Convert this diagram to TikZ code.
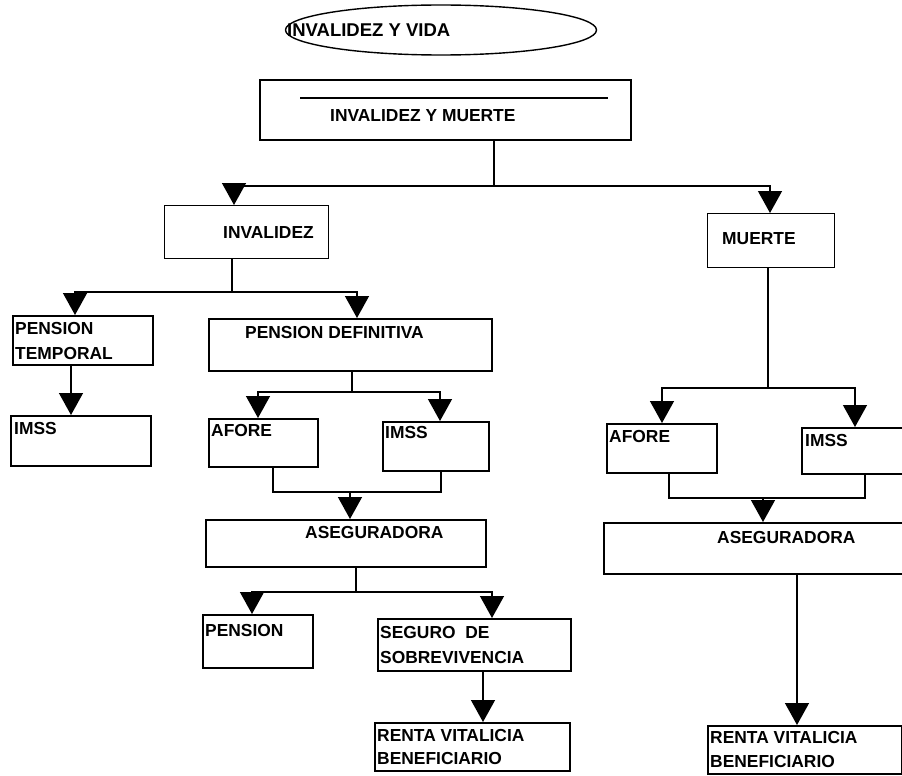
\documentclass[tikz,border=0pt]{standalone}
\usepackage{fontspec}
\setmainfont{Liberation Sans}
\usetikzlibrary{arrows.meta,shapes.geometric}
\tikzset{
  box/.style={draw, line width=2.2pt, rectangle, inner sep=0pt, anchor=north west},
  thinbox/.style={box, line width=1.4pt},
  lbl/.style={font=\bfseries\fontsize{17.4}{20}\selectfont, anchor=base west, inner sep=0pt},
  conn/.style={line width=1.4pt},
  arr/.style={line width=1.4pt, -{Triangle[width=24pt,length=22pt]}},
}
\begin{document}
\begin{tikzpicture}[x=1pt,y=-1pt]
\useasboundingbox[fill=white] (0,0) rectangle (902,776);

% title ellipse
\node[ellipse, draw, line width=1.4pt, minimum width=311pt, minimum height=50pt, inner sep=0pt] (vida) at (441,30) {};
\node[lbl, font=\bfseries\fontsize{18.5}{20}\selectfont] (vidat) at (287,37) {INVALIDEZ Y VIDA};

% top box
\node[box, minimum width=371pt, minimum height=60pt] (tm) at (259,79) {};
\draw[conn] (300,98) -- (608,98);
\node[lbl] (tmt) at (330,121) {INVALIDEZ Y MUERTE};

% level 1
\node[thinbox, minimum width=164pt, minimum height=53pt] (inv) at (164,205) {};
\node[lbl] (invt) at (223,238) {INVALIDEZ};
\node[thinbox, minimum width=127pt, minimum height=54pt] (mu) at (707,213) {};
\node[lbl] (mut) at (722,244) {MUERTE};

\coordinate (j1) at (494,186);
\coordinate (j1a) at (234,186);
\coordinate (j1b) at (770,186);
\draw[conn] (tm.south -| j1) -- (j1);
\draw[arr] (j1) -| (inv.north -| j1a);
\draw[arr] (j1) -| (mu.north -| j1b);

% invalidez branch
\node[box, minimum width=140pt, minimum height=49pt] (pt) at (12,315) {};
\node[lbl] (ptt1) at (15,334) {PENSION};
\node[lbl] (ptt2) at (15,359) {TEMPORAL};
\node[box, minimum width=283pt, minimum height=52pt] (pd) at (208,318) {};
\node[lbl] (pdt) at (245,338) {PENSION DEFINITIVA};

\coordinate (j2) at (232,292);
\coordinate (j2a) at (75,292);
\coordinate (j2b) at (357,292);
\draw[conn] (inv.south -| j2) -- (j2);
\draw[arr] (j2) -| (pt.north -| j2a);
\draw[arr] (j2) -| (pd.north -| j2b);

\node[box, minimum width=140pt, minimum height=50pt] (im1) at (10,415) {};
\node[lbl] (im1t) at (14,434) {IMSS};
\coordinate (k1) at (71,390);
\draw[arr] (pt.south -| k1) -- (im1.north -| k1);

\node[box, minimum width=109pt, minimum height=48pt] (af1) at (208,418) {};
\node[lbl] (af1t) at (211,436) {AFORE};
\node[box, minimum width=106pt, minimum height=49pt] (im2) at (382,421) {};
\node[lbl] (im2t) at (385,438) {IMSS};

\coordinate (j3) at (352,392);
\coordinate (j3a) at (258,392);
\coordinate (j3b) at (440,392);
\draw[conn] (pd.south -| j3) -- (j3);
\draw[arr] (j3) -| (af1.north -| j3a);
\draw[arr] (j3) -| (im2.north -| j3b);

\coordinate (m1) at (350,492);
\coordinate (m1a) at (273,492);
\coordinate (m1b) at (441,492);
\draw[conn] (af1.south -| m1a) -- (m1a) -- (m1b) -- (im2.south -| m1b);

\node[box, minimum width=280pt, minimum height=47pt] (as1) at (205,519) {};
\node[lbl] (as1t) at (305,538) {ASEGURADORA};
\draw[arr] (m1) -- (as1.north -| m1);

\node[box, minimum width=110pt, minimum height=53pt] (pen) at (202,614) {};
\node[lbl] (pent) at (205,636) {PENSION};
\node[box, minimum width=193pt, minimum height=52pt] (seg) at (377,618) {};
\node[lbl] (segt1) at (380,638) {SEGURO\ \ DE};
\node[lbl] (segt2) at (380,663) {SOBREVIVENCIA};

\coordinate (j4) at (356,592);
\coordinate (j4a) at (252,592);
\coordinate (j4b) at (492,592);
\draw[conn] (as1.south -| j4) -- (j4);
\draw[arr] (j4) -| (pen.north -| j4a);
\draw[arr] (j4) -| (seg.north -| j4b);

\node[box, minimum width=195pt, minimum height=48pt] (rv1) at (374,722) {};
\node[lbl] (rv1t1) at (377,741) {RENTA VITALICIA};
\node[lbl] (rv1t2) at (377,764) {BENEFICIARIO};
\coordinate (k2) at (483,700);
\draw[arr] (seg.south -| k2) -- (rv1.north -| k2);

% muerte branch
\node[box, minimum width=110pt, minimum height=49pt] (af2) at (606,423) {};
\node[lbl] (af2t) at (609,442) {AFORE};
\node[box, minimum width=120pt, minimum height=46pt] (im3) at (801,427) {};
\node[lbl] (im3t) at (805,446) {IMSS};

\coordinate (j5) at (768,388);
\coordinate (j5a) at (662,388);
\coordinate (j5b) at (855,388);
\draw[conn] (mu.south -| j5) -- (j5);
\draw[arr] (j5) -| (af2.north -| j5a);
\draw[arr] (j5) -| (im3.north -| j5b);

\coordinate (m2) at (763,498);
\coordinate (m2a) at (669,498);
\coordinate (m2b) at (865,498);
\draw[conn] (af2.south -| m2a) -- (m2a) -- (m2b) -- (im3.south -| m2b);

\node[box, minimum width=310pt, minimum height=51pt] (as2) at (603,522) {};
\node[lbl] (as2t) at (717,543) {ASEGURADORA};
\draw[arr] (m2) -- (as2.north -| m2);

\node[box, minimum width=194pt, minimum height=48pt] (rv2) at (707,725) {};
\node[lbl] (rv2t1) at (710,743) {RENTA VITALICIA};
\node[lbl] (rv2t2) at (710,767) {BENEFICIARIO};
\coordinate (k3) at (797,650);
\draw[arr] (as2.south -| k3) -- (rv2.north -| k3);
\end{tikzpicture}
\end{document}
